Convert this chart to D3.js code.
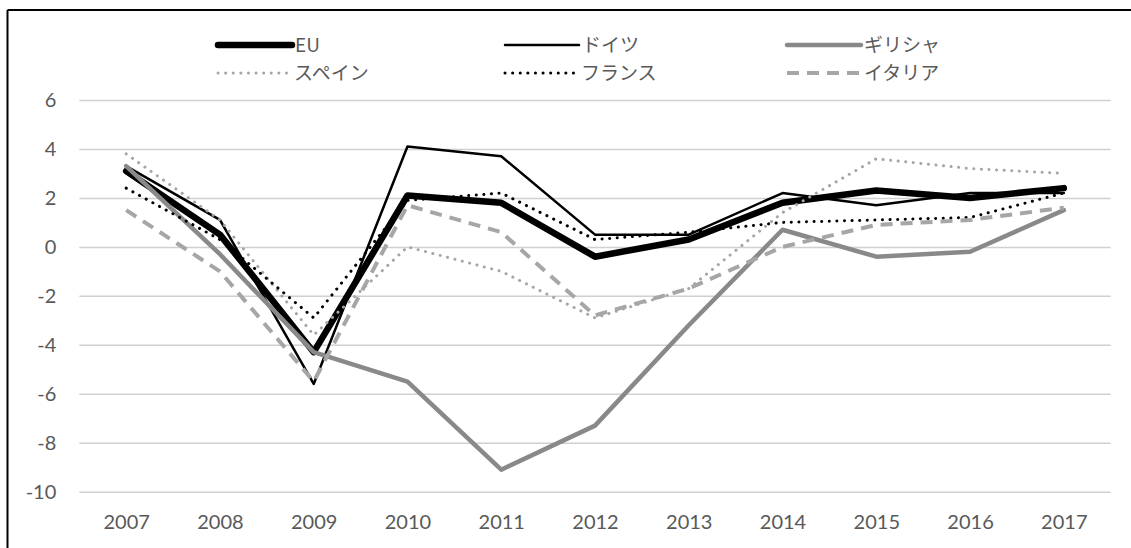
<!DOCTYPE html>
<html><head><meta charset="utf-8">
<script src="https://cdn.jsdelivr.net/npm/d3@7/dist/d3.min.js"></script>
<style>
html,body{margin:0;padding:0;background:#fff;}
svg{display:block;}
</style></head>
<body>
<svg id="chart" width="1131" height="548"></svg>
<script>
const years = ["2007","2008","2009","2010","2011","2012","2013","2014","2015","2016","2017"];
const yTicks = [6,4,2,0,-2,-4,-6,-8,-10];
const seriesNames = ["EU","ドイツ","ギリシャ","スペイン","フランス","イタリア"];
const euValues      = [3.1, 0.5, -4.3, 2.1, 1.8, -0.4, 0.3, 1.8, 2.3, 2.0, 2.4];
const germanyValues = [3.3, 1.1, -5.6, 4.1, 3.7, 0.5, 0.5, 2.2, 1.7, 2.2, 2.2];
const greeceValues  = [3.3, -0.3, -4.3, -5.5, -9.1, -7.3, -3.2, 0.7, -0.4, -0.2, 1.5];
const spainValues   = [3.8, 1.1, -3.6, 0.0, -1.0, -2.9, -1.7, 1.4, 3.6, 3.2, 3.0];
const franceValues  = [2.4, 0.3, -2.9, 1.9, 2.2, 0.3, 0.6, 1.0, 1.1, 1.2, 2.2];
const italyValues   = [1.5, -1.0, -5.5, 1.7, 0.6, -2.8, -1.7, 0.0, 0.9, 1.1, 1.6];

(function(){
const seriesValues = [euValues, germanyValues, greeceValues, spainValues, franceValues, italyValues];
const styles = [
  {color:"#000000", width:6.5, dash:null},
  {color:"#000000", width:2.5, dash:null},
  {color:"#898989", width:4.5, dash:null},
  {color:"#a6a6a6", width:3, dash:"0.1 7.5"},
  {color:"#000000", width:3, dash:"0.1 7.5"},
  {color:"#a6a6a6", width:4, dash:"12 8"}
];

const svg = d3.select("#chart");
const pLeft = 79.3, pRight = 1110.7, pTop = 100, pBottom = 491.7;

const x = d3.scalePoint().domain(years).range([pLeft, pRight]).padding(0.5);
const y = d3.scaleLinear().domain([-10, 6]).range([pBottom, pTop]);

// frame
svg.append("line").attr("x1",7.5).attr("x2",1131).attr("y1",10).attr("y2",10).attr("stroke","#000").attr("stroke-width",2);
svg.append("line").attr("x1",7.5).attr("x2",7.5).attr("y1",10).attr("y2",548).attr("stroke","#000").attr("stroke-width",2);

// gridlines
const yAxis = d3.axisLeft(y).tickValues(yTicks).tickSize(-(pRight-pLeft)).tickPadding(23).tickFormat(d => String(d));
const gy = svg.append("g").attr("transform",`translate(${pLeft},0)`).call(yAxis);
gy.select(".domain").remove();
gy.selectAll(".tick line").attr("stroke","#d0d0d0").attr("stroke-width",1.5);
gy.selectAll(".tick text").attr("fill","#595959").style("font-family","Lato, 'Open Sans', sans-serif").style("font-size","20px");

const xAxis = d3.axisBottom(x).tickSize(0).tickPadding(0);
const gx = svg.append("g").attr("transform",`translate(0,${pBottom})`).call(xAxis);
gx.select(".domain").remove();
gx.selectAll(".tick text").attr("fill","#595959").attr("dy","0").attr("y",37)
  .style("font-family","Lato, 'Open Sans', sans-serif").style("font-size","20px");

const line = d3.line().x((d,i)=>x(years[i])).y(d=>y(d));

seriesValues.forEach((vals,i)=>{
  const s = styles[i];
  const p = svg.append("path").datum(vals).attr("d",line)
    .attr("fill","none").attr("stroke",s.color).attr("stroke-width",s.width)
    .attr("stroke-linejoin","round").attr("stroke-linecap","round");
  if (s.dash) { p.attr("stroke-dasharray",s.dash); if (i===5) p.attr("stroke-linecap","butt"); }
});

// legend
const legX = [218, 505, 787];
const legY = [45, 73];
seriesNames.forEach((name,i)=>{
  const s = styles[i];
  const cx = legX[i%3], cy = legY[Math.floor(i/3)];
  const l = svg.append("line").attr("x1",cx).attr("x2",cx+74).attr("y1",cy).attr("y2",cy)
    .attr("stroke",s.color).attr("stroke-width",s.width).attr("stroke-linecap","round");
  if (s.dash) { l.attr("stroke-dasharray",s.dash); if (i===5) l.attr("stroke-linecap","butt"); }
  svg.append("text").attr("x",cx+ (s.dash && i!==5 ? 76 : 77)).attr("y",cy).attr("dy","0.35em")
    .attr("fill","#595959").style("font-family","'Noto Sans CJK JP', Lato, sans-serif").style("font-size","19px")
    .text(name);
});
})();
</script>
</body></html>
